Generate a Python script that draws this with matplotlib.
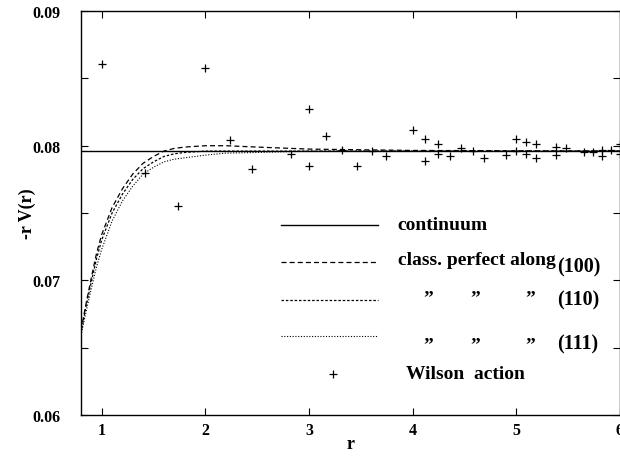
import numpy as np
import matplotlib
matplotlib.use("Agg")
import matplotlib.pyplot as plt
from matplotlib.ticker import MultipleLocator

plt.rcParams['font.family'] = 'Liberation Serif'
plt.rcParams['font.weight'] = 'bold'

# continuum value (flat line)
continuum = 0.0796

# classically perfect action curves
r_curve = [0.80, 0.85, 0.90, 0.95, 1.00, 1.10, 1.20, 1.30, 1.40, 1.50,
           1.60, 1.70, 1.80, 2.00, 2.20, 2.50, 3.00, 4.00, 6.00]
v_100 = [0.0663, 0.0683, 0.0702, 0.0720, 0.0734, 0.0754, 0.0768, 0.0779, 0.0787, 0.0792,
         0.0796, 0.0798, 0.0799, 0.0800, 0.0800, 0.0799, 0.07975, 0.07965, 0.0796]
v_110 = [0.0661, 0.0681, 0.0699, 0.0716, 0.0730, 0.0750, 0.0764, 0.0775, 0.0783, 0.0788,
         0.0792, 0.0794, 0.0795, 0.0796, 0.0796, 0.0796, 0.0796, 0.0796, 0.0796]
v_111 = [0.0659, 0.0677, 0.0694, 0.0710, 0.0723, 0.0744, 0.0759, 0.0770, 0.0779, 0.0784,
         0.0788, 0.0790, 0.0791, 0.0793, 0.07945, 0.0795, 0.0796, 0.0796, 0.0796]

# Wilson action points
r_wilson = [1.000, 1.414, 1.732, 2.000, 2.236, 2.449, 2.828, 3.000, 3.000, 3.162,
            3.317, 3.464, 3.606, 3.742, 4.000, 4.123, 4.123, 4.243, 4.243, 4.359,
            4.472, 4.583, 4.690, 4.899, 5.000, 5.000, 5.099, 5.099, 5.196, 5.196,
            5.385, 5.385, 5.477, 5.657, 5.745, 5.831, 5.831, 5.916, 6.000, 6.000]
v_wilson = [0.0861, 0.0780, 0.0755, 0.0858, 0.0804, 0.0783, 0.0794, 0.0827, 0.0785, 0.0807,
            0.0797, 0.0785, 0.0796, 0.0792, 0.0812, 0.0805, 0.0789, 0.0801, 0.0794, 0.0792,
            0.0798, 0.0796, 0.0791, 0.0793, 0.0805, 0.0796, 0.0803, 0.0794, 0.0801, 0.0791,
            0.0799, 0.0793, 0.0798, 0.0795, 0.0795, 0.0797, 0.0792, 0.0797, 0.0801, 0.0794]

fig = plt.figure(figsize=(6.2, 4.6), dpi=100)
ax = fig.add_axes([0.1306, 0.0957, 0.869, 0.878])

ax.axhline(continuum, color='black', lw=1.0)
ax.plot(r_curve, v_100, color='black', lw=0.9, ls=(0, (4, 2.5)))
ax.plot(r_curve, v_110, color='black', lw=0.9, ls=(0, (2, 1.5)))
ax.plot(r_curve, v_111, color='black', lw=0.8, ls=(0, (1, 1.5)))
ax.plot(r_wilson, v_wilson, ls='none', marker='+', ms=6, mew=0.9, color='black')

ax.set_xlim(0.8, 6)
ax.set_ylim(0.06, 0.09)
ax.xaxis.set_major_locator(MultipleLocator(1))
ax.set_yticks([0.06, 0.07, 0.08, 0.09])
ax.set_yticklabels(['0.06', '0.07', '0.08', '0.09'])
ax.yaxis.set_minor_locator(MultipleLocator(0.005))
ax.tick_params(which='both', direction='in', top=True, right=True, length=5, width=0.8,
               labelsize=11.5)
ax.tick_params(axis='y', pad=15)
ax.tick_params(axis='x', pad=5)
for s in ax.spines.values():
    s.set_linewidth(1.0)

ax.set_xlabel('r', fontsize=13, fontweight='bold', labelpad=-2)
ax.set_ylabel('-r V(r)', fontsize=13, fontweight='bold', labelpad=-3)

# hand made legend
tr = ax.transAxes
lx0, lx1 = 0.371, 0.551
ax.plot([lx0, lx1], [0.470, 0.470], transform=tr, color='black', lw=1.0)
ax.plot([lx0, lx1], [0.378, 0.378], transform=tr, color='black', lw=0.9, ls=(0, (4, 2.5)))
ax.plot([lx0, lx1], [0.285, 0.285], transform=tr, color='black', lw=0.9, ls=(0, (2, 1.5)))
ax.plot([lx0, lx1], [0.196, 0.196], transform=tr, color='black', lw=0.8, ls=(0, (1, 1.5)))
ax.plot([0.467], [0.101], transform=tr, ls='none', marker='+', ms=6, mew=0.9, color='black')

fs = 14
ax.text(0.588, 0.472, 'continuum', transform=tr, fontsize=fs, va='center')
ax.text(0.588, 0.386, 'class. perfect along', transform=tr, fontsize=fs, va='center')
ax.text(0.884, 0.368, '(100)', transform=tr, fontsize=14.5, va='center')
for qx in [0.635, 0.722, 0.824]:
    ax.text(qx, 0.290, '\u201d', transform=tr, fontsize=fs, va='center')
    ax.text(qx, 0.175, '\u201d', transform=tr, fontsize=fs, va='center')
ax.text(0.884, 0.287, '(110)', transform=tr, fontsize=14.5, va='center')
ax.text(0.884, 0.176, '(111)', transform=tr, fontsize=14.5, va='center')
ax.text(0.604, 0.103, 'Wilson  action', transform=tr, fontsize=fs, va='center')

fig.savefig('out.png', dpi=100)
